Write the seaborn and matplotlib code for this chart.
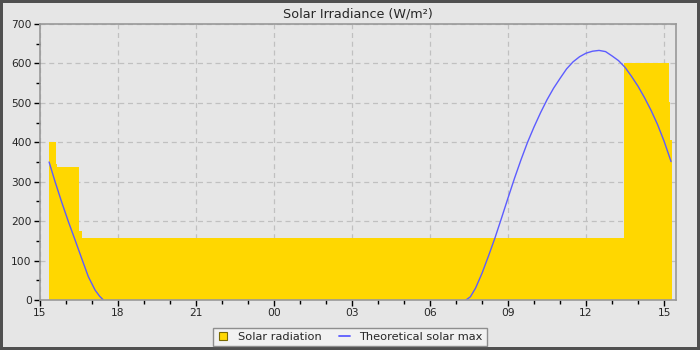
import numpy as np
import pandas as pd
import matplotlib
matplotlib.use("Agg")
import matplotlib.pyplot as plt
from matplotlib.lines import Line2D
from matplotlib.ticker import MultipleLocator, FixedLocator
import seaborn as sns

# ---- data (hours since 15:00 on day 1) ----
rad_hours = [0.35, 0.60, 0.65, 1.50, 1.60, 22.46, 24.19, 24.23, 24.31]
rad_values = [400, 346, 338, 175, 158, 600, 502, 407, 407]

max_seg1_hours = [0.35, 0.58, 0.83, 1.09, 1.35, 1.60, 1.86, 2.12, 2.30, 2.44]
max_seg1_values = [350, 300, 249, 199, 152, 106, 59, 25, 9, 0]

max_seg2_hours = [16.38, 16.55, 16.75, 17.00, 17.25, 17.50, 17.75, 18.00, 18.25,
                  18.50, 18.75, 19.00, 19.25, 19.50, 19.75, 20.00, 20.25, 20.50,
                  20.75, 21.00, 21.25, 21.50, 21.75, 22.00, 22.25, 22.50, 22.75,
                  23.00, 23.25, 23.50, 23.75, 24.00, 24.27]
max_seg2_values = [0, 8, 30, 68, 112, 158, 208, 259, 309,
                   356, 400, 439, 475, 508, 537, 562, 586, 604,
                   617, 626, 631, 633, 630, 619, 607, 590, 567,
                   542, 513, 481, 445, 403, 351]

tick_hours = [0, 3, 6, 9, 12, 15, 18, 21, 24]
tick_labels = ["15", "18", "21", "00", "03", "06", "09", "12", "15"]

# ---- style ----
sns.set_style("whitegrid")
plt.rcParams["font.family"] = ["DejaVu Sans"]
bg = "#e6e6e6"

fig = plt.figure(figsize=(7, 3.5), dpi=100, facecolor=bg, edgecolor="#505050", linewidth=3)
ax = fig.add_axes([40 / 700, 50 / 350, 635.5 / 700, 276 / 350])
ax.set_facecolor(bg)

# solar radiation as filled step area
ax.fill_between(rad_hours, rad_values, step="post", color="#ffd700", linewidth=0, zorder=2)

# theoretical max
df = pd.DataFrame({
    "hour": max_seg1_hours + max_seg2_hours,
    "value": max_seg1_values + max_seg2_values,
    "seg": [1] * len(max_seg1_hours) + [2] * len(max_seg2_hours),
})
sns.lineplot(data=df, x="hour", y="value", units="seg", estimator=None,
             color="#5c5cff", linewidth=1.0, ax=ax, zorder=3, legend=False)

ax.set_xlim(0, 24.44)
ax.set_ylim(0, 700)
ax.xaxis.set_major_locator(FixedLocator(tick_hours))
ax.set_xticklabels(tick_labels)
ax.xaxis.set_minor_locator(MultipleLocator(1))
ax.yaxis.set_major_locator(MultipleLocator(100))
ax.yaxis.set_minor_locator(MultipleLocator(50))
ax.set_xlabel("")
ax.set_ylabel("")

ax.grid(True, which="major", color="#c0c0c0", linestyle=(0, (4, 3)), linewidth=0.9)
ax.grid(False, which="minor")
ax.set_axisbelow(True)
for s in ax.spines.values():
    s.set_visible(True)
    s.set_color("#999999")
    s.set_linewidth(1.2)
    s.set_zorder(4)

ax.tick_params(axis="both", which="major", direction="out", length=4, width=1,
               color="black", labelsize=7.7, pad=2, bottom=True, left=True)
ax.tick_params(axis="both", which="minor", direction="out", length=3, width=1,
               color="black", bottom=True, left=True)

ax.set_title("Solar Irradiance (W/m²)", fontsize=9.2, pad=5)

handles = [
    Line2D([], [], linestyle="none", marker="s", markersize=6,
           markerfacecolor="#ffd700", markeredgecolor="#7a6a00", markeredgewidth=0.8),
    Line2D([], [], color="#5c5cff", linewidth=1.3),
]
leg = fig.legend(handles, ["Solar radiation", "Theoretical solar max"],
                 loc="center", bbox_to_anchor=(0.5, 0.037), ncol=2,
                 fontsize=8.2, frameon=True, fancybox=False, handlelength=1.0,
                 columnspacing=1.5, handletextpad=0.8, borderpad=0.35)
leg.get_frame().set_facecolor("#f5f5f5")
leg.get_frame().set_edgecolor("#777777")
leg.get_frame().set_linewidth(1)

fig.savefig("out.png", dpi=100, facecolor=bg, edgecolor="#505050")
